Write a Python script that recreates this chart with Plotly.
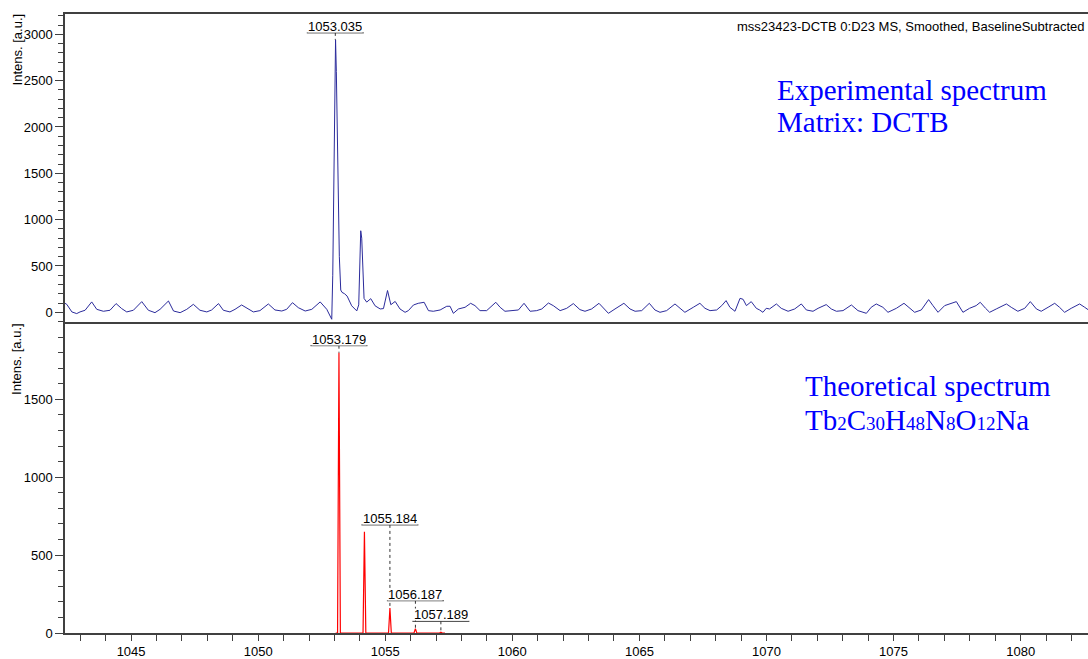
import plotly.graph_objects as go

# ---------------- data ----------------
# Experimental spectrum (top panel)
exp_mz = [1042.40, 1042.47, 1042.67, 1042.86, 1042.99, 1043.19, 1043.45, 1043.65, 1043.91, 1044.17,
          1044.41, 1044.63, 1044.83, 1045.09, 1045.42, 1045.68, 1045.94, 1046.14, 1046.47, 1046.67,
          1046.93, 1047.19, 1047.45, 1047.71, 1047.98, 1048.17, 1048.44, 1048.63, 1048.89, 1049.09,
          1049.35, 1049.62, 1049.81, 1050.07, 1050.40, 1050.66, 1050.93, 1051.12, 1051.35, 1051.58,
          1051.85, 1052.11, 1052.44, 1052.70, 1052.80, 1052.895, 1052.935, 1052.974, 1053.013, 1053.045,
          1053.076, 1053.115, 1053.155, 1053.194, 1053.249, 1053.30, 1053.40, 1053.50, 1053.68, 1053.88,
          1053.957, 1053.996, 1054.036, 1054.075, 1054.114, 1054.166, 1054.27, 1054.43, 1054.60, 1054.80,
          1054.93, 1055.09, 1055.22, 1055.39, 1055.58, 1055.78, 1055.91, 1056.11, 1056.30, 1056.53,
          1056.70, 1056.89, 1057.16, 1057.42, 1057.55, 1057.68, 1057.88, 1058.14, 1058.36, 1058.53,
          1058.73, 1058.99, 1059.35, 1059.52, 1059.71, 1060.04, 1060.24, 1060.46, 1060.70, 1060.96,
          1061.16, 1061.42, 1061.61, 1061.88, 1062.14, 1062.40, 1062.66, 1062.86, 1063.12, 1063.41,
          1063.65, 1063.78, 1064.04, 1064.39, 1064.63, 1064.83, 1065.09, 1065.39, 1065.61, 1065.81,
          1066.07, 1066.40, 1066.60, 1066.79, 1067.12, 1067.38, 1067.58, 1067.78, 1068.04, 1068.24,
          1068.41, 1068.56, 1068.76, 1068.96, 1069.08, 1069.21, 1069.40, 1069.60, 1069.73, 1069.86,
          1069.99, 1070.12, 1070.39, 1070.58, 1070.85, 1071.11, 1071.37, 1071.57, 1071.83, 1072.03,
          1072.35, 1072.55, 1072.75, 1073.01, 1073.34, 1073.60, 1073.93, 1074.12, 1074.32, 1074.58,
          1074.78, 1075.11, 1075.41, 1075.63, 1075.83, 1076.09, 1076.38, 1076.55, 1076.75, 1077.01,
          1077.27, 1077.47, 1077.73, 1077.99, 1078.25, 1078.41, 1078.62, 1078.78, 1079.04, 1079.44,
          1079.63, 1079.89, 1080.16, 1080.38, 1080.62, 1080.81, 1081.08, 1081.34, 1081.53, 1081.73,
          1081.99, 1082.32, 1082.52, 1082.65]
exp_int = [97, 86, 4, -14, 4, 22, 112, 32, 11, 22,
           94, 40, 4, 22, 115, 22, -4, 32, 122, 14,
           -4, 32, 86, 22, 4, 25, 94, 22, 4, 32,
           79, 32, 4, 18, 90, 25, 14, 32, 104, 50,
           14, 32, 112, 32, -20, -75, 400, 1500, 2500, 2940,
           2600, 1800, 1100, 600, 240, 215, 200, 175, 70, 15,
           80, 500, 880, 800, 500, 150, 110, 147, 70, 36,
           40, 235, 82, 117, 36, 0, 18, 79, 97, 108,
           18, 11, 25, 65, 65, -11, 36, 54, 97, 72,
           18, 18, 108, 54, 11, 18, 25, 97, 11, 18,
           36, 100, 72, 18, 43, 94, 29, 11, 36, 97,
           29, -11, 36, 97, 36, 11, 18, 97, 25, 0,
           18, 90, 43, 0, 54, 97, 43, 18, 25, 72,
           126, 54, 11, 151, 140, 72, 115, 43, 25, 0,
           43, 36, 90, 43, 11, 36, 90, 25, 11, 43,
           83, 36, 11, 18, 79, 18, -11, 54, 90, 54,
           0, 43, 97, 43, 0, 25, 137, 72, 0, 72,
           101, 115, 0, 43, 72, 108, 43, 0, 36, 90,
           54, 11, 43, 115, 36, 11, 54, 97, 54, 0,
           43, 90, 54, 29]

# Theoretical isotope pattern (bottom panel)
theo_mz = [1053.179, 1054.181, 1055.184, 1056.187, 1057.189]
theo_int = [1800, 650, 160, 28, 5]
theo_span = [1053.05, 1057.35]

# Peak labels
exp_label_text = ["1053.035"]
exp_label_mz = [1053.035]
exp_label_int = [2940]
theo_label_idx = [0, 2, 3, 4]
theo_label_text = ["1053.179", "1055.184", "1056.187", "1057.189"]

x_ticks = [1045, 1050, 1055, 1060, 1065, 1070, 1075, 1080]
top_yticks = [0, 500, 1000, 1500, 2000, 2500, 3000]
bot_yticks = [0, 500, 1000, 1500]

title_text = "mss23423-DCTB 0:D23 MS, Smoothed, BaselineSubtracted"
exp_lines = ["Experimental spectrum", "Matrix: DCTB"]
formula_parts = [("Tb", "2"), ("C", "30"), ("H", "48"), ("N", "8"), ("O", "12"), ("Na", "")]

# ---------------- layout geometry ----------------
W, H = 1088, 659
ML, MR, MT, MB = 65, 0, 14, 24
plot_w = W - ML - MR
plot_h = H - MT - MB
split = (H - MB - 323.3) / plot_h          # boundary between panels (paper)
x_range = [1042.40, 1082.65]
top_range = [-108, 3219]
bot_range = [0, 1995]

top_h_px = plot_h * (1 - split)
bot_h_px = plot_h * split
top_u = (top_range[1] - top_range[0]) / top_h_px   # data units per px
bot_u = (bot_range[1] - bot_range[0]) / bot_h_px
x_u = (x_range[1] - x_range[0]) / plot_w

def px_x(p):
    return (p - ML) / plot_w

def px_y(p):
    return (H - MB - p) / plot_h

AX = "#404040"
FONT = "Liberation Sans, Arial, sans-serif"
SERIF = "Liberation Serif, Times New Roman, serif"

fig = go.Figure()

fig.add_trace(go.Scatter(x=exp_mz, y=exp_int, mode="lines", xaxis="x2", yaxis="y2",
                         line=dict(color="#2b2b9b", width=1), hoverinfo="skip"))

tx, ty = [theo_span[0]], [0]
for m, h in zip(theo_mz, theo_int):
    tx += [m - 0.055, m, m + 0.055]
    ty += [0, h, 0]
tx.append(theo_span[1]); ty.append(0)
fig.add_trace(go.Scatter(x=tx, y=ty, mode="lines", xaxis="x", yaxis="y",
                         line=dict(color="#ff0000", width=1.2), hoverinfo="skip"))

common_y = dict(ticks="outside", ticklen=8, tickwidth=1, tickcolor=AX, showline=True,
                linecolor=AX, linewidth=1.5, showgrid=False, zeroline=False,
                tickfont=dict(size=13, family=FONT, color="black"), tickmode="array",
                minor=dict(dtick=100, tick0=0, ticks="outside", ticklen=5, tickcolor=AX,
                           showgrid=False))

fig.update_layout(
    width=W, height=H, autosize=False,
    margin=dict(l=ML, r=MR, t=MT, b=MB, pad=0),
    plot_bgcolor="white", paper_bgcolor="white", showlegend=False,
    font=dict(family=FONT, size=13, color="black"),
    xaxis=dict(domain=[0, 1], anchor="y", range=x_range, tickmode="array",
               tickvals=x_ticks, ticktext=[str(v) for v in x_ticks],
               ticks="outside", ticklen=6, tickwidth=1, tickcolor=AX,
               showline=True, linecolor=AX, linewidth=1.5, showgrid=False, zeroline=False,
               tickfont=dict(size=13, family=FONT, color="black"), layer="below traces",
               minor=dict(dtick=1, tick0=1045, ticks="outside", ticklen=6, tickcolor=AX,
                          showgrid=False)),
    xaxis2=dict(domain=[0, 1], anchor="y2", matches="x", range=x_range,
                showticklabels=False, ticks="", showline=True, mirror=True,
                linecolor=AX, linewidth=1.5, showgrid=False, zeroline=False),
    yaxis=dict(domain=[0, split], anchor="x", range=bot_range,
               tickvals=bot_yticks, ticktext=[str(v) for v in bot_yticks], **common_y),
    yaxis2=dict(domain=[split, 1], anchor="x2", range=top_range,
                tickvals=top_yticks, ticktext=[str(v) for v in top_yticks], **common_y),
)

ann = []
shapes = []

# y-axis titles
for cy in (49.5, 360):
    ann.append(dict(text="Intens. [a.u.]", xref="paper", yref="paper",
                    x=px_x(17), y=px_y(cy), xanchor="center", yanchor="middle",
                    textangle=-90, showarrow=False, font=dict(size=13, family=FONT)))

# header
ann.append(dict(text=title_text, xref="paper", yref="paper", x=px_x(1087), y=px_y(26.5),
                xanchor="right", yanchor="middle", showarrow=False,
                font=dict(size=13, family=FONT, color="black")))

# blue legends
formula = "".join(
    el + (f'<span style="font-size:19px">{n}</span>' if n else "") for el, n in formula_parts)
theo_lines = ["Theoretical spectrum", formula]

for txt, cy in zip(exp_lines, (90, 122)):
    ann.append(dict(text=txt, xref="paper", yref="paper", x=px_x(775), y=px_y(cy),
                    xanchor="left", yanchor="middle", showarrow=False,
                    font=dict(size=29, family=SERIF, color="#0000ff")))
for txt, cy in zip(theo_lines, (387, 421)):
    ann.append(dict(text=txt, xref="paper", yref="paper", x=px_x(803), y=px_y(cy),
                    xanchor="left", yanchor="middle", showarrow=False,
                    font=dict(size=29, family=SERIF, color="#0000ff")))

half_ul = 28.5 * x_u

def add_label(txt, m, level, apex, xr, yr, unit):
    shapes.append(dict(type="line", xref=xr, yref=yr, x0=m, x1=m, y0=level, y1=apex,
                       line=dict(color="#333333", width=1, dash="dot")))
    ann.append(dict(text=txt, xref=xr, yref=yr, x=m, y=level + 6.5 * unit,
                    xanchor="center", yanchor="middle", showarrow=False,
                    bgcolor="white", borderpad=0, height=11, valign="middle",
                    font=dict(size=13, family=FONT, color="black")))
    shapes.append(dict(type="line", xref=xr, yref=yr, x0=m - half_ul, x1=m + half_ul,
                       y0=level, y1=level, line=dict(color="#333333", width=1)))

# label levels (underline heights, in data units)
exp_levels = [exp_label_int[0] + 7 * top_u]
theo_levels = [theo_int[0] + 7 * bot_u, 694, 207, 75]

for t, m, lv, a in zip(exp_label_text, exp_label_mz, exp_levels, exp_label_int):
    add_label(t, m, lv, a, "x2", "y2", top_u)
for t, i, lv in zip(theo_label_text, theo_label_idx, theo_levels):
    add_label(t, theo_mz[i], lv, theo_int[i], "x", "y", bot_u)

fig.update_layout(annotations=ann, shapes=shapes)
fig.write_html("out.html")
